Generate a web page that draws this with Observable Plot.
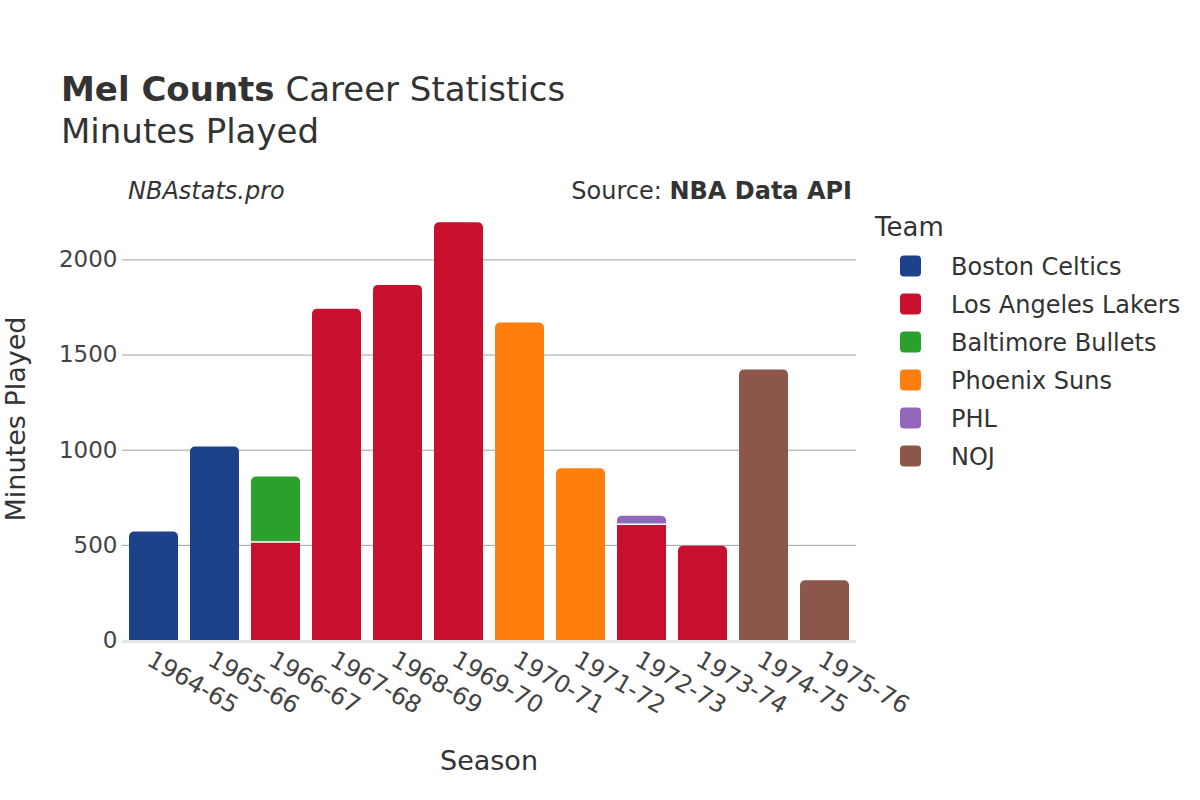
<!DOCTYPE html>
<html><head><meta charset="utf-8">
<script src="https://cdn.jsdelivr.net/npm/d3@7"></script>
<script src="https://cdn.jsdelivr.net/npm/@observablehq/plot@0.6"></script>
<style>
body{margin:0;background:#fff;}
#wrap{position:relative;width:1200px;height:800px;font-family:"DejaVu Sans",sans-serif;}
#overlay{position:absolute;left:0;top:0;pointer-events:none;}
</style></head><body>
<div id="wrap"></div>
<script>
const seasons = ["1964-65","1965-66","1966-67","1967-68","1968-69","1969-70","1970-71","1971-72","1972-73","1973-74","1974-75","1975-76"];
const teams = ["Boston Celtics","Los Angeles Lakers","Baltimore Bullets","Phoenix Suns","PHL","NOJ"];
const teamColors = ["#1d428a","#c8102e","#2ca02c","#ff7f0e","#9467bd","#8c564b"];
const rowSeason = ["1964-65","1965-66","1966-67","1966-67","1967-68","1968-69","1969-70","1970-71","1971-72","1972-73","1972-73","1973-74","1974-75","1975-76"];
const rowTeam = ["Boston Celtics","Boston Celtics","Los Angeles Lakers","Baltimore Bullets","Los Angeles Lakers","Los Angeles Lakers","Los Angeles Lakers","Phoenix Suns","Phoenix Suns","Los Angeles Lakers","PHL","Los Angeles Lakers","NOJ","NOJ"];
const rowMinutes = [570,1017,517,342,1740,1866,2195,1668,902,611,42,495,1421,314];
const yTicks = [0,500,1000,1500,2000];

// stack segments in trace (team) order
const segs = [];
for (const s of seasons) {
  const idx = [];
  for (const t of teams) rowSeason.forEach((ss, i) => { if (ss === s && rowTeam[i] === t) idx.push(i); });
  let acc = 0;
  idx.forEach((i, k) => {
    segs.push({season: s, team: rowTeam[i], y1: acc, y2: acc + rowMinutes[i], top: k === idx.length - 1});
    acc += rowMinutes[i];
  });
}

const chart = Plot.plot({
  width: 1200, height: 800,
  marginLeft: 122, marginRight: 344, marginTop: 200, marginBottom: 160,
  style: {fontFamily: "DejaVu Sans", fontSize: "23px", color: "#444", background: "white", overflow: "visible"},
  x: {domain: seasons, paddingInner: 0.2, paddingOuter: 0.1},
  y: {domain: [0, 2312]},
  color: {domain: teams, range: teamColors},
  marks: [
    Plot.ruleY(yTicks.filter(d => d > 0), {stroke: "#a0a0a0", strokeWidth: 1}),
    Plot.ruleY([0], {stroke: "#e6e6e6", strokeWidth: 3, dy: 1}),
    Plot.barY(segs.filter(d => d.top), {x: "season", y1: "y1", y2: "y2", fill: "team", rx: 5}),
    Plot.barY(segs, {x: "season", y1: "y1", y2: d => d.top ? d.y1 + (d.y2 - d.y1) / 2 : d.y2, fill: "team"}),
    Plot.tickY(segs.filter(d => d.y1 > 0), {x: "season", y: "y1", stroke: "white", strokeWidth: 1.5}),
    Plot.axisY({ticks: yTicks, tickFormat: d => String(d), tickSize: 0, tickPadding: 5, fontSize: 23, label: null}),
    Plot.axisX({tickSize: 0, tickPadding: 9, tickRotate: 30, textAnchor: "start", lineAnchor: "top", fontSize: 24, label: null})
  ]
});
const wrap = document.getElementById("wrap");
wrap.appendChild(chart);

// overlay: titles, captions, axis titles, legend
const ov = d3.select(wrap).append("svg").attr("id", "overlay")
  .attr("width", 1200).attr("height", 800)
  .style("font-family", "DejaVu Sans").attr("fill", "#333");
const t1 = ov.append("text").attr("x", 61).attr("y", 101).attr("font-size", 34);
t1.append("tspan").attr("font-weight", "bold").text("Mel Counts");
t1.append("tspan").text(" Career Statistics");
ov.append("text").attr("x", 61).attr("y", 143).attr("font-size", 34).text("Minutes Played");
ov.append("text").attr("x", 128).attr("y", 199).attr("font-size", 24).attr("font-style", "italic").text("NBAstats.pro");
const src = ov.append("text").attr("x", 852).attr("y", 199).attr("font-size", 24).attr("text-anchor", "end");
src.append("tspan").text("Source: ");
src.append("tspan").attr("font-weight", "bold").text("NBA Data API");
ov.append("text").attr("x", 489).attr("y", 770).attr("font-size", 27).attr("text-anchor", "middle").text("Season");
ov.append("text").attr("transform", "translate(25,419) rotate(-90)").attr("font-size", 27).attr("text-anchor", "middle").text("Minutes Played");
ov.append("text").attr("x", 875).attr("y", 236).attr("font-size", 26).text("Team");
teams.forEach((t, i) => {
  const cy = 266 + i * 38;
  ov.append("rect").attr("x", 900).attr("y", cy - 10.5).attr("width", 21).attr("height", 21).attr("rx", 4).attr("fill", teamColors[i]);
  ov.append("text").attr("x", 951).attr("y", cy + 8.5).attr("font-size", 24).text(t);
});
</script>
</body></html>
